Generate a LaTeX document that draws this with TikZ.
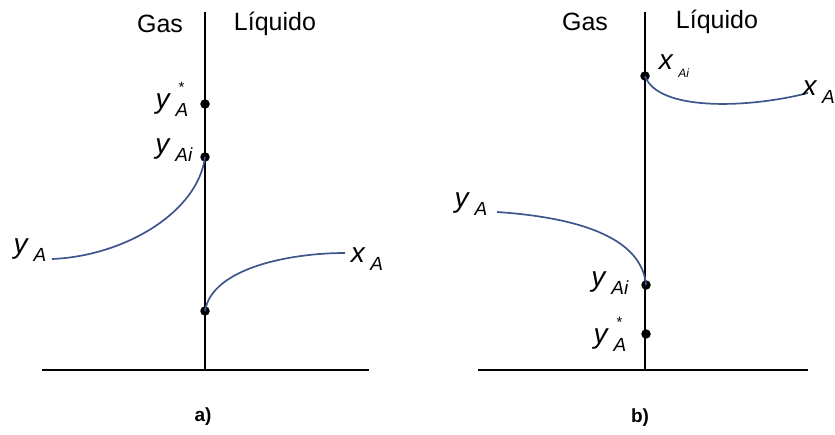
\documentclass[tikz,border=0pt]{standalone}
\usepackage{fontspec}
\setmainfont{Liberation Sans}
\definecolor{curve}{RGB}{62,86,140}
\newcommand\vlab[2]{\textit{#1}\,\raisebox{-8pt}{\fontsize{19}{19}\selectfont\textit{#2}}}
\newcommand\vlabstar[2]{\textit{#1}\,\raisebox{-8pt}{\fontsize{19}{19}\selectfont\rlap{\raisebox{24pt}{\hspace{3pt}\fontsize{15}{15}\selectfont*}}\textit{#2}}}
\begin{document}
\begin{tikzpicture}[x=1pt,y=-1pt,
  axis/.style={line width=1.8pt,black},
  prof/.style={line width=1.7pt,curve},
  dot/.style={circle,fill=black,inner sep=0pt,minimum size=9.5pt},
  head/.style={font=\fontsize{25}{25}\selectfont,inner sep=0pt},
  var/.style={font=\fontsize{28}{28}\selectfont,inner sep=0pt},
  captxt/.style={font=\fontsize{19}{19}\selectfont\bfseries,inner sep=0pt}]
\useasboundingbox (0,0) rectangle (835,435);
% ---- panel a ----
\coordinate (aTop) at (205,12);
\coordinate (aBot) at (205,370);
\coordinate (aL) at (42,370);
\coordinate (aR) at (369,370);
\draw[axis] (aTop) -- (aBot);
\draw[axis] (aL) -- (aR);
\node[head] (aGas) at (160,24) {Gas};
\node[head] (aLiq) at (275,24) {Líquido};
\node[dot] (aStar) at (205,104) {};
\node[dot] (aYi) at (205,157) {};
\node[dot] (aXi) at (205,311) {};
\coordinate (aYA) at (52,259);
\coordinate (aXA) at (345,253);
\draw[prof] (aYA) .. controls (125,256) and (198,212) .. (aYi.center);
\draw[prof] (aXi.center) .. controls (212,268) and (290,253) .. (aXA);
\node[var] (aLstar) at (172,99) {\vlabstar{y}{A}};
\node[var] (aLyi) at (174,150) {\vlab{y}{Ai}};
\node[var] (aLyA) at (30,250) {\vlab{y}{A}};
\node[var] (aLxA) at (367,259) {\vlab{x}{A}};
\node[captxt] (aCap) at (203,417) {a)};
% ---- panel b ----
\coordinate (bTop) at (645,12);
\coordinate (bBot) at (645,370);
\coordinate (bL) at (478,370);
\coordinate (bR) at (808,370);
\draw[axis] (bTop) -- (bBot);
\draw[axis] (bL) -- (bR);
\node[head] (bGas) at (585,22) {Gas};
\node[head] (bLiq) at (717,22) {Líquido};
\node[dot] (bXi) at (645,76) {};
\node[dot] (bYi) at (646,285) {};
\node[dot] (bStar) at (646,334) {};
\coordinate (bYA) at (497,212);
\coordinate (bXA) at (808,93);
\draw[prof] (bXi.center) .. controls (658,112) and (750,108) .. (bXA);
\draw[prof] (bYA) .. controls (585,218) and (642,240) .. (bYi.center);
\node[var] (bLxi) at (674,66) {\vlab{x}{\fontsize{12}{12}\selectfont Ai}};
\node[var,anchor=east] (bLxA) at (835,92) {\vlab{x}{A}};
\node[var] (bLyA) at (471,204) {\vlab{y}{A}};
\node[var] (bLyi) at (610,283) {\vlab{y}{Ai}};
\node[var] (bLstar) at (610,334) {\vlabstar{y}{A}};
\node[captxt] (bCap) at (640,418) {b)};
\end{tikzpicture}
\end{document}
